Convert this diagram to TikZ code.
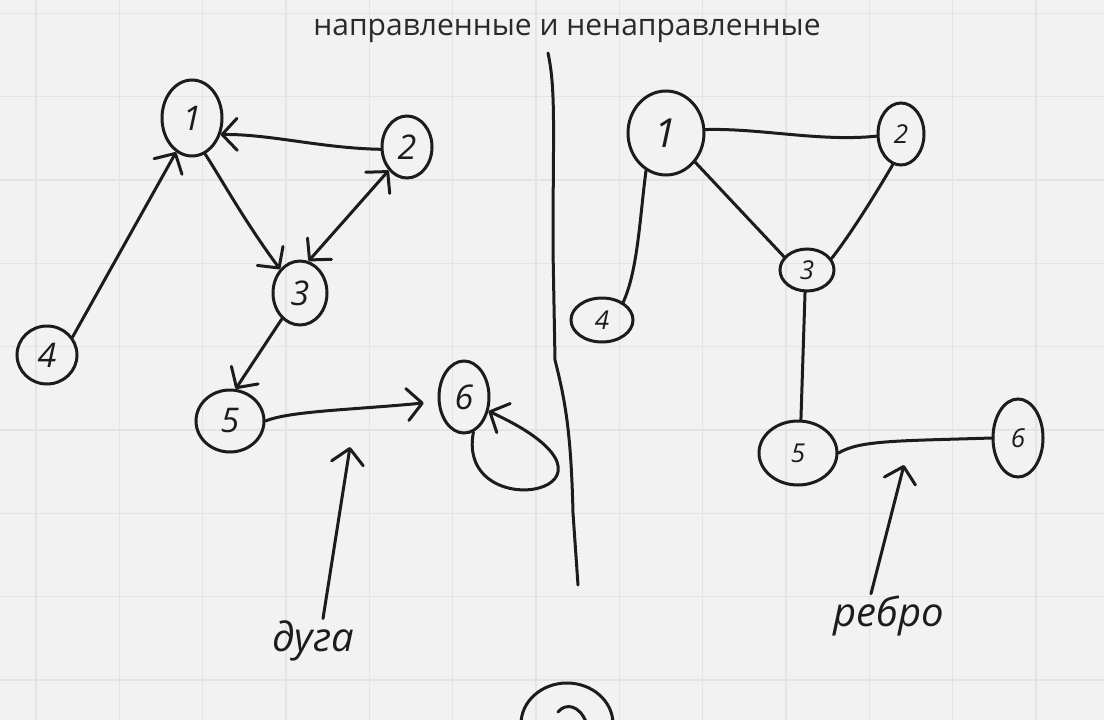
\documentclass[tikz,border=0pt]{standalone}
\usepackage{fontspec}
\setmainfont{Open Sans}
\newfontfamily\handfont{Open Sans}
\usetikzlibrary{arrows.meta,shapes.geometric}
\definecolor{bg}{HTML}{F2F2F2}
\definecolor{gridc}{HTML}{E4E4E4}
\definecolor{ink}{HTML}{1C1C1C}
\definecolor{titlec}{HTML}{2A2A2A}
\begin{document}
\begin{tikzpicture}[x=1pt,y=-1pt,
  ln/.style={draw=ink,line width=3pt,line cap=round,line join=round},
  vtx/.style={ellipse,draw=ink,line width=3pt,inner sep=0pt,text=ink,
    font=\handfont\itshape\fontsize{34}{34}\selectfont},
  small/.style={font=\handfont\itshape\fontsize{26}{26}\selectfont},
  sz/.style 2 args={minimum width=#1pt,minimum height=#2pt},
  arr/.style={ln,-{Straight Barb[length=15pt,width=32pt,round]}},
  darr/.style={ln,{Straight Barb[length=15pt,width=32pt,round]}-{Straight Barb[length=15pt,width=32pt,round]}},
  lbl/.style={text=ink,inner sep=2pt,font=\handfont\itshape\fontsize{40}{40}\selectfont}]
\useasboundingbox (0,0) rectangle (1104,720);
\clip (0,0) rectangle (1104,720);
\fill[bg] (0,0) rectangle (1104,720);
\foreach \i in {0,...,13} \draw[gridc,line width=1.6pt] ({36+83.333*\i},0) -- ++(0,720);
\foreach \j in {0,...,8} \draw[gridc,line width=1.6pt] (0,{13.333+83.333*\j}) -- ++(1104,0);
% title
\node[text=titlec,font=\fontsize{30}{30}\selectfont] (title) at (567,31) {направленные и ненаправленные};
% divider
\draw[ln] (548,53) .. controls (556,90) and (553,130) .. (553,250) -- (555,360)
  .. controls (565,400) and (571,430) .. (573,513) -- (578,585);
% left (directed) graph
\node[vtx,sz={60}{76}] (L1) at (192,118) {1};
\node[vtx,sz={50}{62}] (L2) at (407,147) {2};
\node[vtx,sz={54}{64}] (L3) at (300,293) {3};
\node[vtx,sz={60}{58}] (L4) at (47,355) {4};
\node[vtx,sz={68}{62}] (L5) at (230,421) {5};
\node[vtx,sz={50}{72}] (L6) at (464,397) {6};
\draw[arr] (L2.185) .. controls (320,148) and (270,134) .. (L1.-30);
\draw[arr] (L4.35) -- (L1.-115);
\draw[arr] (L1.-70) .. controls (222,180) and (245,222) .. (L3.130);
\draw[darr] (L3.75) -- (L2.-128);
\draw[arr] (L3.-125) -- (L5.80);
\draw[arr,shorten >=14pt] (L5.east) .. controls (290,411) and (350,410) .. (L6.-170);
\draw[arr] (L6.-75) .. controls (455,530) and (660,490) .. (L6.-30);
\coordinate (dugaTip) at (350,447);
\node[lbl] (duga) at (313,641) {дуга};
\draw[arr] ([xshift=10pt]duga.north) -- (dugaTip);
% right (undirected) graph
\node[vtx,sz={76}{84},font=\handfont\itshape\fontsize{40}{40}\selectfont] (R1) at (666,133) {1};
\node[vtx,small,sz={46}{62}] (R2) at (901,134) {2};
\node[vtx,small,sz={54}{42}] (R3) at (807,270) {3};
\node[vtx,small,sz={62}{44}] (R4) at (602,320) {4};
\node[vtx,small,sz={78}{64}] (R5) at (798,453) {5};
\node[vtx,small,sz={50}{78}] (R6) at (1018,438) {6};
\draw[ln] (R1.5) .. controls (760,128) and (820,142) .. (R2.185);
\draw[ln] (R1.-118) .. controls (640,215) and (638,270) .. (R4.40);
\draw[ln] (R1.-45) -- (R3.150);
\draw[ln] (R2.-105) .. controls (875,195) and (850,235) .. (R3.25);
\draw[ln] (R3.-95) -- (R5.85);
\draw[ln] (R5.east) .. controls (860,440) and (900,441) .. (R6.west);
\coordinate (rebroTip) at (904,465);
\node[lbl] (rebro) at (889,616) {ребро};
\draw[arr] ([xshift=-18pt]rebro.north) -- (rebroTip);
% partly visible node at the bottom (its content is cut by the page edge)
\node[vtx,sz={92}{82}] (B) at (567,724) {};
\draw[ln] (558,712) .. controls (566,702) and (580,706) .. (586,722);
\end{tikzpicture}
\end{document}
